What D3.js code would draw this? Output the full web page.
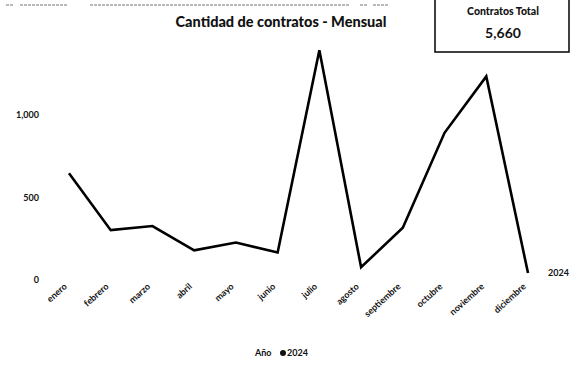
<!DOCTYPE html>
<html>
<head>
<meta charset="utf-8">
<script src="https://cdn.jsdelivr.net/npm/d3@7"></script>
<style>
  html, body { margin: 0; padding: 0; background: #fff; }
  svg { display: block; font-family: Lato, "Liberation Sans", sans-serif; }
</style>
</head>
<body>
<svg id="chart" width="570" height="370"></svg>
<script>
// Monthly contract counts, 2024
const months = ["enero", "febrero", "marzo", "abril", "mayo", "junio",
                "julio", "agosto", "septiembre", "octubre", "noviembre", "diciembre"];
const contratos2024 = [635, 290, 315, 168, 215, 155, 1380, 65, 305, 880, 1222, 30];
const yTicks = [0, 500, 1000];
const seriesName = "2024";
const totalContratos = 5660;

const svg = d3.select("#chart");
const fmt = d3.format(",");

const x = d3.scalePoint().domain(months).range([69, 528]);
const y = d3.scaleLinear().domain([0, 1500]).range([278, 30.5]);

// faint rule fragments along the top edge
const topRule = [[6, 13], [20, 68], [90, 350], [360, 367], [373, 388]];
svg.selectAll("line.top").data(topRule).join("line")
  .attr("x1", d => d[0]).attr("x2", d => d[1])
  .attr("y1", 5).attr("y2", 5)
  .attr("stroke", "#777").attr("stroke-width", 1.2)
  .attr("stroke-dasharray", "3,1");

// title
svg.append("text")
  .attr("x", 281).attr("y", 27)
  .attr("text-anchor", "middle")
  .attr("font-weight", "900").attr("font-size", 14.5)
  .attr("fill", "#111")
  .text("Cantidad de contratos - Mensual");

// y axis labels (no line)
const yAxis = d3.axisLeft(y).tickValues(yTicks).tickFormat(fmt).tickSize(0);
const gy = svg.append("g").attr("transform", "translate(42,2)").call(yAxis);
gy.select(".domain").remove();
gy.selectAll("text").attr("font-size", 9).attr("font-weight", "bold").attr("fill", "#111")
  .attr("font-family", "Lato, 'Liberation Sans', sans-serif");

// x axis labels, rotated
const xAxis = d3.axisBottom(x).tickSize(0);
const gx = svg.append("g").attr("transform", "translate(0,282)").call(xAxis);
gx.select(".domain").remove();
gx.selectAll(".tick text")
  .attr("font-size", 9).attr("font-weight", "bold").attr("fill", "#111")
  .attr("font-family", "Lato, 'Liberation Sans', sans-serif")
  .attr("text-anchor", "end")
  .attr("dy", 0)
  .attr("transform", "translate(-4,3) rotate(-42)");

// line
const line = d3.line().x((d, i) => x(months[i])).y(d => y(d));
svg.append("path")
  .datum(contratos2024)
  .attr("d", line)
  .attr("fill", "none")
  .attr("stroke", "#000")
  .attr("stroke-width", 2.6)
  .attr("stroke-linejoin", "miter");

// series label at line end
svg.append("text")
  .attr("x", 548).attr("y", 276)
  .attr("font-size", 9).attr("font-weight", "bold").attr("fill", "#111")
  .text(seriesName);

// legend
const lg = svg.append("g").attr("transform", "translate(0,356)");
lg.append("text").attr("x", 255).attr("y", 0)
  .attr("font-size", 9).attr("font-weight", "bold").attr("fill", "#111").text("Año");
lg.append("circle").attr("cx", 283).attr("cy", -3).attr("r", 3).attr("fill", "#111");
lg.append("text").attr("x", 287).attr("y", 0)
  .attr("font-size", 9).attr("font-weight", "bold").attr("fill", "#111").text(seriesName);

// total card
const card = svg.append("g");
card.append("rect")
  .attr("x", 435).attr("y", -2).attr("width", 134).attr("height", 54)
  .attr("fill", "#fff").attr("stroke", "#111").attr("stroke-width", 1.6);
card.append("text").attr("x", 503).attr("y", 15)
  .attr("text-anchor", "middle").attr("font-size", 10.5).attr("font-weight", "900")
  .attr("fill", "#111").text("Contratos Total");
card.append("text").attr("x", 503).attr("y", 38)
  .attr("text-anchor", "middle").attr("font-size", 14).attr("font-weight", "bold")
  .attr("fill", "#111").text(fmt(totalContratos));
</script>
</body>
</html>
